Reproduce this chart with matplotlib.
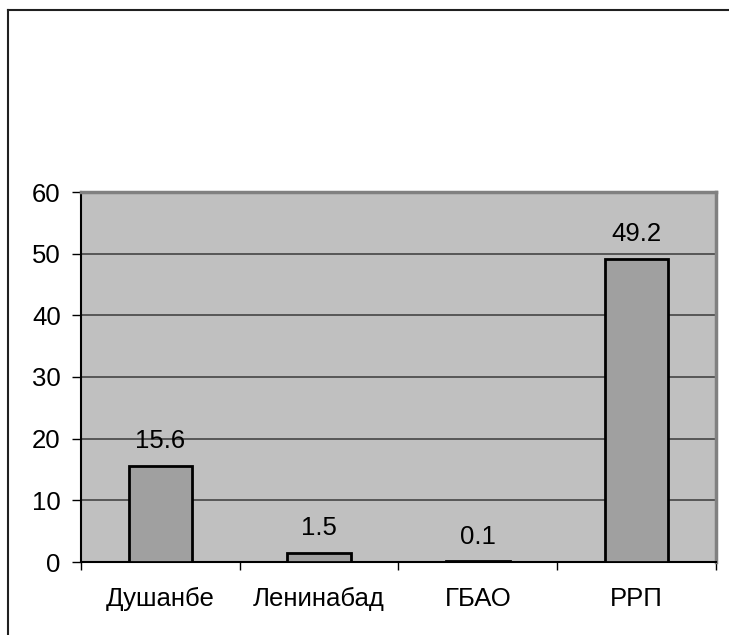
import matplotlib
matplotlib.use("Agg")
from matplotlib import pyplot as plt
from matplotlib.lines import Line2D
import numpy as np

regions = ["Душанбе", "Ленинабад", "ГБАО", "РРП"]
values = [15.6, 1.5, 0.1, 49.2]
labels = ["15.6", "1.5", "0.1", "49.2"]
yticks = [0, 10, 20, 30, 40, 50, 60]

plt.rcParams['font.family'] = ['Liberation Sans', 'DejaVu Sans']

fig = plt.figure(figsize=(7.29, 6.35), dpi=100)
ax = fig.add_axes([81 / 729, 1 - 562 / 635, 635 / 729, 370 / 635])
ax.set_facecolor('#c0c0c0')

x = np.arange(len(regions))
ax.bar(x, values, width=0.4, color='#a0a0a0', edgecolor='black', linewidth=2, zorder=3)
for xi, v, lab in zip(x, values, labels):
    ax.annotate(lab, (xi, v), xytext=(0, 9), textcoords='offset points',
                ha='center', va='bottom', fontsize=18.5, zorder=4)

ax.set_xlim(-0.5, len(regions) - 0.5)
ax.set_ylim(0, 60)
ax.set_yticks(yticks)
ax.tick_params(axis='y', labelsize=18.5, length=6.5, width=1, direction='out', pad=8)
ax.yaxis.grid(True, color='#454545', linewidth=1.2, zorder=1)
ax.set_axisbelow(True)

# category labels centred, ticks on the boundaries
ax.set_xticks(x)
ax.set_xticklabels(regions, fontsize=18.5)
ax.tick_params(axis='x', length=0, pad=18)
ax.set_xticks(np.arange(-0.5, len(regions)), minor=True)
ax.tick_params(axis='x', which='minor', length=6, width=1, direction='out')

ax.spines['left'].set_color('black')
ax.spines['bottom'].set_color('black')
ax.spines['top'].set_color('#808080')
ax.spines['right'].set_color('#808080')
for s in ax.spines.values():
    s.set_linewidth(1.5)
ax.spines['top'].set_linewidth(2.5)
ax.spines['right'].set_linewidth(2.5)

# outer chart frame (left and top only)
fig.add_artist(Line2D([8 / 729, 8 / 729], [0, 1 - 10 / 635], color='#202020', linewidth=1.5))
fig.add_artist(Line2D([8 / 729, 1], [1 - 10 / 635, 1 - 10 / 635], color='#202020', linewidth=1.5))

fig.savefig("out.png", dpi=100)
